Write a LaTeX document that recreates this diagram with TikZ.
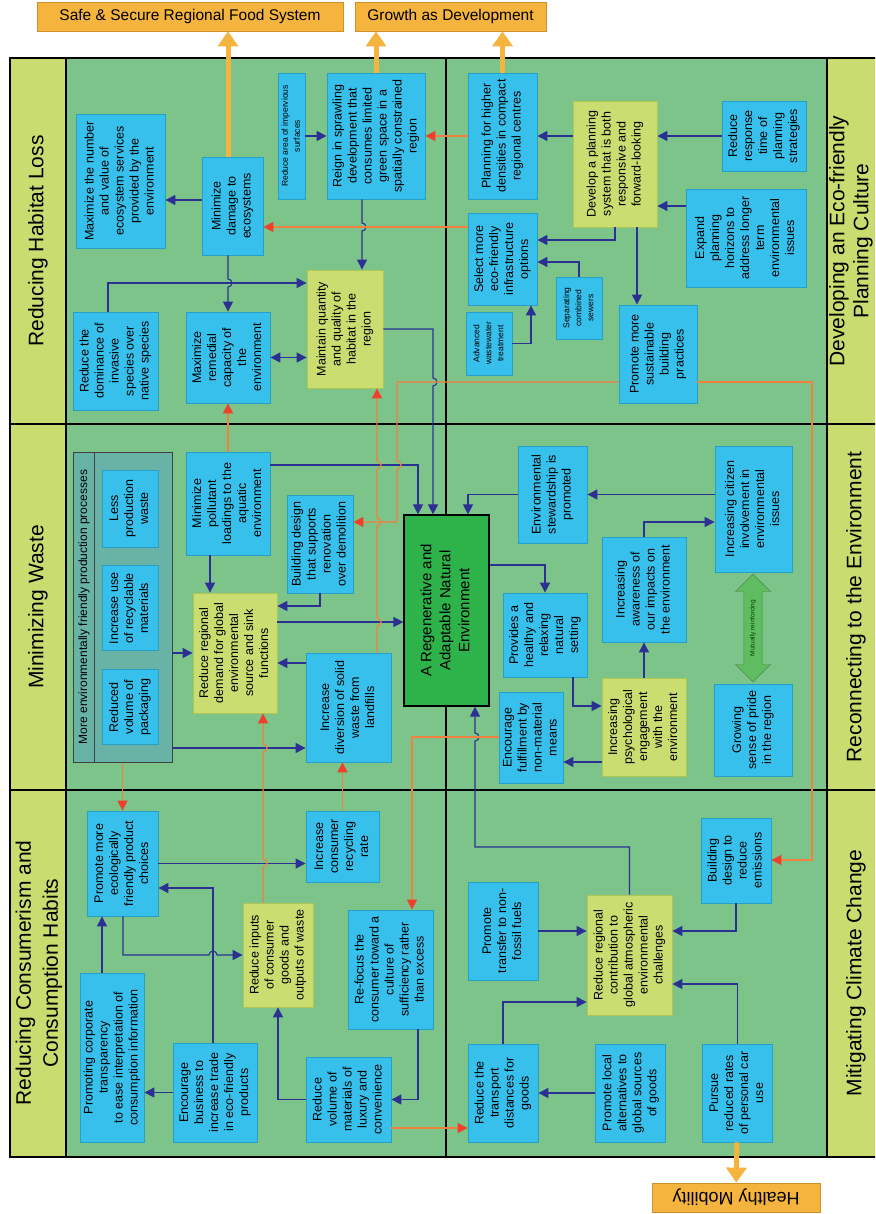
\documentclass[tikz,border=0pt]{standalone}
\usepackage{fontspec}
\setmainfont{Liberation Sans}
\usepackage{graphicx}
\usetikzlibrary{arrows.meta,shapes.arrows,positioning}
\definecolor{fieldgreen}{RGB}{124,196,138}
\definecolor{stripyellow}{RGB}{200,220,112}
\definecolor{boxcyan}{RGB}{56,192,236}
\definecolor{cyanline}{RGB}{38,160,196}
\definecolor{boxlime}{RGB}{202,221,112}
\definecolor{limeline}{RGB}{176,198,84}
\definecolor{coregreen}{RGB}{46,178,74}
\definecolor{procteal}{RGB}{104,178,166}
\definecolor{linkblue}{RGB}{44,48,146}
\definecolor{linkorange}{RGB}{242,128,62}
\definecolor{headred}{RGB}{238,64,44}
\definecolor{goldfill}{RGB}{244,180,62}
\definecolor{goldline}{RGB}{206,146,44}
\definecolor{mutualgreen}{RGB}{96,188,96}
\newcommand{\vtext}[1]{\rotatebox{90}{\begin{tabular}{@{}c@{}}#1\end{tabular}}}

\begin{document}
\begin{tikzpicture}[
  x=1pt, y=1pt,
  sz/.style 2 args={minimum width=#1pt, minimum height=#2pt},
  box/.style={draw=cyanline, fill=boxcyan, line width=0.8pt, inner sep=0pt,
              font=\fontsize{12.5}{15}\selectfont},
  ybox/.style={box, draw=limeline, fill=boxlime},
  sbox/.style={box, font=\fontsize{8.5}{12}\selectfont},
  goal/.style={draw=goldline, fill=goldfill, line width=0.8pt, inner sep=0pt},
  strip/.style={rotate=90, align=center, font=\fontsize{21}{27}\selectfont},
  frame/.style={line width=2.5pt},
  arr/.style={linkblue, line width=1.1pt, -{Triangle[length=10pt,width=10pt]}},
  darr/.style={linkblue, line width=1.1pt,
               {Triangle[length=10pt,width=10pt]}-{Triangle[length=10pt,width=10pt]}},
  oarr/.style={linkorange, line width=1.2pt, -{Triangle[length=10pt,width=10pt,color=headred]}},
  big/.style={goldfill, line width=5pt, -{Triangle[length=15pt,width=20pt]}}
]
  \useasboundingbox (0,0) rectangle (875,-1214);
  \clip (0,0) rectangle (875,-1214);

  % Felder und Rahmen
  \fill[fieldgreen] (66,-58) rectangle (827,-1157);
  \fill[stripyellow] (10,-58) rectangle (66,-1157);
  \fill[stripyellow] (827,-58) rectangle (900,-1157);
  \draw[frame] (10,-58) rectangle (900,-1157);
  \draw[frame] (66,-58) -- (66,-1157);
  \draw[frame] (446,-58) -- (446,-1157);
  \draw[frame] (827,-58) -- (827,-1157);
  \draw[frame] (10,-424) -- (900,-424);
  \draw[frame] (10,-790) -- (900,-790);

  % Themen
  \node[strip] (hdrhab)   at (38,-241)  {Reducing Habitat Loss};
  \node[strip] (hdrwaste) at (38,-607)  {Minimizing Waste};
  \node[strip] (hdrcons)  at (39,-973)  {Reducing Consumerism and\\Consumption Habits};
  \node[strip, font=\fontsize{21}{24}\selectfont] (hdrplan) at (851,-241)
        {Developing an Eco-friendly\\Planning Culture};
  \node[strip] (hdrrecon) at (856,-607) {Reconnecting to the Environment};
  \node[strip] (hdrclim)  at (856,-973) {Mitigating Climate Change};

  % Ziele
  \node[goal, sz={306}{29}, font=\fontsize{15.5}{18}\selectfont] (food) at (190,-16.5)
        {Safe \& Secure Regional Food System};
  \node[goal, sz={191}{29}, font=\fontsize{15.5}{18}\selectfont] (growth) at (450.5,-16.5)
        {Growth as Development};
  \node[goal, sz={168}{29}, rotate=180, font=\fontsize{18}{20}\selectfont] (mobility) at (736,-1197.5)
        {Healthy Mobility};

  % Lebensraum
  \node[box, sz={89}{134}] (maxnum) at (120.5,-181)
        {\vtext{Maximize the number\\and value of\\ecosystem services\\provided by the\\environment}};
  \node[box, sz={61}{98}] (mindmg) at (232.5,-206) {\vtext{Minimize\\damage to\\ecosystems}};
  \node[sbox, sz={27}{126}] (impervious) at (291.5,-136) {\vtext{Reduce area of impervious\\surfaces}};
  \node[box, sz={98}{126}] (reign) at (376,-136)
        {\vtext{Reign in sprawling\\development that\\consumes limited\\green space in a\\spatially constrained\\region}};
  \node[box, sz={85}{98}] (invasive) at (115.5,-361)
        {\vtext{Reduce the\\dominance of\\invasive\\species over\\native species}};
  \node[box, sz={84}{91}] (remedial) at (228,-357.5)
        {\vtext{Maximize\\remedial\\capacity of\\the\\environment}};
  \node[ybox, sz={76}{118}] (maintain) at (345,-329)
        {\vtext{Maintain quantity\\and quality of\\habitat in the\\region}};

  % Planungskultur
  \node[box, sz={69}{126}] (planning) at (502.5,-136)
        {\vtext{Planning for higher\\densities in compact\\regional centres}};
  \node[ybox, sz={84}{126}] (develop) at (615,-164)
        {\vtext{Develop a planning\\system that is both\\responsive and\\forward-looking}};
  \node[box, sz={84}{70}] (response) at (764,-136)
        {\vtext{Reduce\\response\\time of\\planning\\strategies}};
  \node[box, sz={120}{98}] (expand) at (746,-238)
        {\vtext{Expand\\planning\\horizons to\\address longer\\term\\environmental\\issues}};
  \node[box, sz={69}{92}] (select) at (502.5,-259)
        {\vtext{Select more\\eco-friendly\\infrastructure\\options}};
  \node[sbox, sz={46}{62}] (separating) at (579,-308) {\vtext{Separating\\combined\\sewers}};
  \node[sbox, sz={46}{63}] (advanced) at (489,-343.5) {\vtext{Advanced\\wastewater\\treatment}};
  \node[box, sz={78}{98}] (promsust) at (658,-354)
        {\vtext{Promote more\\sustainable\\building\\practices}};

  % Abfall
  \node[draw=black!75, fill=procteal, line width=1pt, sz={99}{310}] (procs) at (122.5,-607) {};
  \draw[black!75, line width=1pt] ([xshift=22pt]procs.north west) -- ([xshift=22pt]procs.south west);
  \node[rotate=90, font=\fontsize{12}{14.5}\selectfont] (procslabel) at (84,-607)
        {More environmentally friendly production processes};
  \node[box, sz={56}{77}] (lesswaste) at (130,-508.5) {\vtext{Less\\production\\waste}};
  \node[box, sz={56}{85}, below=18pt of lesswaste] (recyclable) {\vtext{Increase use\\of recyclable\\materials}};
  \node[box, sz={56}{75}, below=18pt of recyclable] (packaging) {\vtext{Reduced\\volume of\\packaging}};
  \node[box, sz={84}{103}] (pollutant) at (228,-503.5)
        {\vtext{Minimize\\pollutant\\loadings to the\\aquatic\\environment}};
  \node[box, sz={66}{98}] (renovation) at (320,-544)
        {\vtext{Building design\\that supports\\renovation\\over demolition}};
  \node[ybox, sz={84}{120}] (demand) at (235,-653)
        {\vtext{Reduce regional\\demand for global\\environmental\\source and sink\\functions}};
  \node[box, sz={85}{109}] (diversion) at (348.5,-707.5)
        {\vtext{Increase\\diversion of solid\\waste from\\landfills}};

  % Zentrum
  \node[draw=black, fill=coregreen, line width=1.2pt, sz={85}{191}, inner sep=0pt,
        font=\fontsize{15}{19}\selectfont] (central) at (446.5,-610.5)
        {\vtext{A Regenerative and\\Adaptable Natural\\Environment}};

  % Umwelt
  \node[box, sz={69}{97}] (stewardship) at (552.5,-494.5)
        {\vtext{Environmental\\stewardship is\\promoted}};
  \node[box, sz={77}{126}] (citizen) at (753.5,-509)
        {\vtext{Increasing citizen\\involvement in\\environmental\\issues}};
  \node[box, sz={84}{105}] (awareness) at (644,-589.5)
        {\vtext{Increasing\\awareness of\\our impacts on\\the environment}};
  \node[box, sz={84}{84}] (healthy) at (545,-635)
        {\vtext{Provides a\\healthy and\\relaxing\\natural\\setting}};
  \node[box, sz={64}{91}] (fulfil) at (531,-737.5)
        {\vtext{Encourage\\fulfillment by\\non-material\\means}};
  \node[ybox, sz={84}{98}] (psych) at (644,-727)
        {\vtext{Increasing\\psychological\\engagement\\with the\\environment}};
  \node[box, sz={78}{92}] (pride) at (753,-730) {\vtext{Growing\\sense of pride\\in the region}};
  \node[double arrow, draw=mutualgreen!75!black, fill=mutualgreen, rotate=90,
        minimum height=108pt, minimum width=35pt, double arrow head extend=8pt,
        inner xsep=2pt, inner ysep=5.5pt, font=\fontsize{6.5}{8}\selectfont,
        text=green!25!black] (mutual) at (753,-628) {Mutually reinforcing};

  % Konsum
  \node[box, sz={71}{105}] (ecoprod) at (122.5,-863.5)
        {\vtext{Promote more\\ecologically\\friendly product\\choices}};
  \node[box, sz={64}{169}] (transparency) at (112,-1057.5)
        {\vtext{Promoting corporate\\transparency\\to ease interpretation of\\consumption information}};
  \node[box, sz={84}{99}] (business) at (215,-1092.5)
        {\vtext{Encourage\\business to\\increase trade\\in eco-friendly\\products}};
  \node[ybox, sz={70}{104}] (inputs) at (278,-955)
        {\vtext{Reduce inputs\\of consumer\\goods and\\outputs of waste}};
  \node[box, sz={73}{71}] (recycling) at (342.5,-846.5) {\vtext{Increase\\consumer\\recycling\\rate}};
  \node[box, sz={85}{119}] (refocus) at (390.5,-969.5)
        {\vtext{Re-focus the\\consumer toward a\\culture of\\sufficiency rather\\than excess}};
  \node[box, sz={85}{85}] (luxury) at (348.5,-1099.5)
        {\vtext{Reduce\\volume of\\materials of\\luxury and\\convenience}};

  % Klima
  \node[box, sz={70}{98}] (nonfossil) at (503,-931) {\vtext{Promote\\transfer to non-\\fossil fuels}};
  \node[box, sz={70}{98}] (transport) at (503,-1093)
        {\vtext{Reduce the\\transport\\distances for\\goods}};
  \node[box, sz={70}{98}, right=57pt of transport] (localalt)
        {\vtext{Promote local\\alternatives to\\global sources\\of goods}};
  \node[box, sz={70}{98}, right=36pt of localalt] (caruse)
        {\vtext{Pursue\\reduced rates\\of personal car\\use}};
  \node[ybox, sz={85}{120}] (contribution) at (629.5,-955)
        {\vtext{Reduce regional\\contribution to\\global atmospheric\\environmental\\challenges}};
  \node[box, sz={70}{85}] (emissions) at (736,-860.5) {\vtext{Building\\design to\\reduce\\emissions}};

  % Pfeile (blau)
  \draw[arr] (mindmg.west |- 0,-200) -- (maxnum.east |- 0,-200);
  \draw[arr] (impervious) -- (reign);
  \draw[arr] (develop.west |- planning) -- (planning);
  \draw[arr] (response) -- (develop.east |- response);
  \draw[arr] (expand.west |- 0,-206) -- (develop.east |- 0,-206);
  \draw[arr] (develop.south) |- (select.east |- 0,-240);
  \draw[arr] (develop.south -| 637,0) -- (promsust.north -| 637,0);
  \draw[arr] (separating.north) |- (select.east |- 0,-262);
  \draw[arr] (advanced.east) -| (select.south -| 531,0);
  \draw[arr] (invasive.north -| 108,0) |- (maintain.west |- 0,-283);
  \draw[arr] (mindmg.south -| 228,0) -- (228,-279) arc[start angle=90,end angle=-90,radius=4]
        -- (remedial.north -| 228,0);
  \draw[arr] (reign.south -| 362,0) -- (362,-223) arc[start angle=90,end angle=-90,radius=4]
        -- (maintain.north -| 362,0);
  \draw[darr] (remedial) -- (maintain.west |- remedial);
  \draw[arr] (maintain.east) -- (433,-329) -- (433,-378) arc[start angle=90,end angle=-90,radius=4]
        -- (central.north -| 433,0);
  \draw[arr] (pollutant.east |- 0,-465) -- (418,-465) -- (central.north -| 418,0);
  \draw[arr] (pollutant.south -| 210,0) -- (demand.north -| 210,0);
  \draw[arr] (procs.east |- demand) -- (demand);
  \draw[arr] (procs.east |- 0,-748) -- (diversion.west |- 0,-748);
  \draw[arr] (renovation.south) |- (demand.east |- 0,-606);
  \draw[arr] (diversion.west |- 0,-663) -- (demand.east |- 0,-663);
  \draw[arr] (demand.east |- 0,-622) -- (central.west |- 0,-622);
  \draw[arr] (ecoprod) -- (recycling.west |- ecoprod);
  \draw[arr] (business.north -| 213,0) |- (ecoprod.east |- 0,-888);
  \draw[arr] (ecoprod.south -| 123,0) -- (123,-955) -- (209,-955) arc[start angle=180,end angle=0,radius=4]
        -- (inputs.west |- 0,-955);
  \draw[arr] (transparency.north -| 102,0) -- (ecoprod.south -| 102,0);
  \draw[arr] (business) -- (transparency.east |- business);
  \draw[arr] (luxury) -| (inputs.south);
  \draw[arr] (refocus.south -| 418,0) |- (luxury);
  \draw[arr] (nonfossil) -- (contribution.west |- nonfossil);
  \draw[arr] (transport.north) |- (contribution.west |- 0,-1002);
  \draw[arr] (localalt) -- (transport);
  \draw[arr] (emissions.south) |- (contribution.east |- 0,-931);
  \draw[arr] (caruse.north) |- (contribution.east |- 0,-984);
  \draw[arr] (contribution.north) -- (contribution.north |- 0,-847) -- (475,-847)
        -- (475,-741) arc[start angle=-90,end angle=90,radius=4] -- (central.south -| 475,0);
  \draw[arr] (stewardship) -| (central.north -| 468,0);
  \draw[arr] (citizen.west |- stewardship) -- (stewardship);
  \draw[arr] (awareness.north) |- (citizen.west |- 0,-522);
  \draw[arr] (psych) -- (awareness);
  \draw[arr] (central.east |- 0,-565) -| (healthy.north);
  \draw[arr] (healthy.south -| 573,0) |- (psych.west |- 0,-706);
  \draw[arr] (psych.west |- 0,-762) -- (fulfil.east |- 0,-762);

  % Pfeile (orange)
  \draw[oarr] (planning) -- (reign);
  \draw[oarr] (select.west |- 0,-227) -- (mindmg.east |- 0,-227);
  \draw[oarr] (pollutant) -- (remedial);
  \draw[oarr] (diversion.north -| 377,0) -- (377,-626) arc[start angle=-90,end angle=90,radius=4]
        -- (377,-526) arc[start angle=-90,end angle=90,radius=4]
        -- (377,-469) arc[start angle=-90,end angle=90,radius=4] -- (maintain.south -| 377,0);
  \draw[oarr] (promsust.west |- 0,-382) -- (397,-382) -- (397,-461) arc[start angle=90,end angle=-90,radius=4]
        -- (397,-522) -- (renovation.east |- 0,-522);
  \draw[oarr] (promsust.east |- 0,-382) -- (812,-382) |- (emissions.east |- 0,-860);
  \draw[oarr] (procs.south -| ecoprod) -- (ecoprod);
  \draw[oarr] (inputs.north -| 263,0) -- (263,-867) arc[start angle=-90,end angle=90,radius=4]
        -- (263,-752) arc[start angle=-90,end angle=90,radius=4] -- (demand.south -| 263,0);
  \draw[oarr] (recycling) -- (diversion.south -| recycling);
  \draw[oarr] (fulfil.west |- 0,-737) -- (412,-737) -- (refocus.north -| 412,0);
  \draw[oarr] (luxury.east |- 0,-1128) -- (transport.west |- 0,-1128);

  % Ziele (dicke Pfeile)
  \draw[big] (mindmg.north -| 228,0) -- (food.south -| 228,0);
  \draw[big] (reign) -- (growth.south -| reign);
  \draw[big] (planning) -- (growth.south -| planning);
  \draw[big] (caruse) -- (mobility);
\end{tikzpicture}
\end{document}
